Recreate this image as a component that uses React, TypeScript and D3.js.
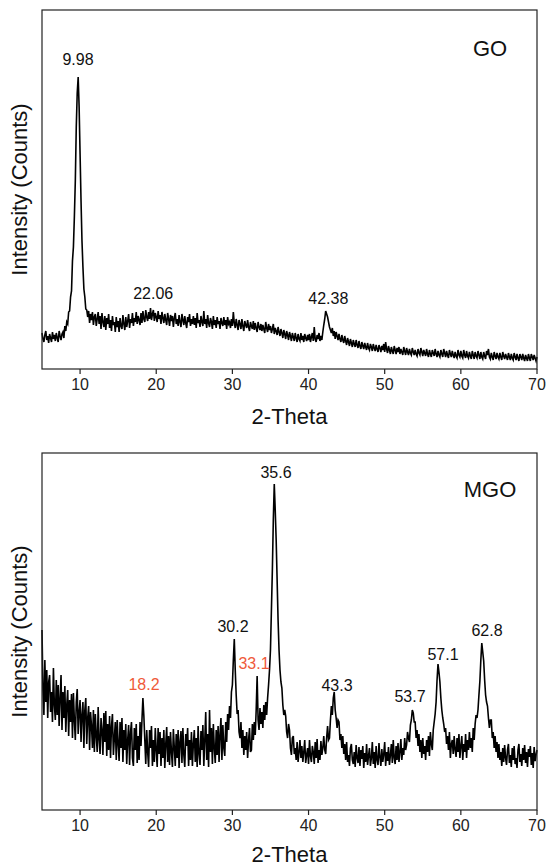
import React from "react";
import * as d3 from "d3";

// ---------- data ----------
const angleStart = 5;
const angleStep = 0.125;

// GO diffractogram, intensity (arbitrary counts) sampled every 0.125° from 5° to 70° (8 values per degree)
const goIntensity = [
  36, 30, 27, 34, 38, 29, 33, 26, // 5
  35, 31, 27, 37, 30, 34, 28, 36, // 6
  31, 27, 38, 33, 29, 35, 37, 31, // 7
  43, 38, 47, 45, 57, 58, 72, 78, // 8
  108, 122, 152, 188, 242, 276, 292, 262, // 9
  215, 168, 128, 102, 80, 72, 60, 59, // 10
  52, 58, 46, 55, 49, 57, 44, 52, // 11
  55, 43, 50, 57, 45, 53, 40, 56, // 12
  47, 42, 53, 39, 51, 45, 55, 41, // 13
  49, 38, 53, 44, 47, 37, 52, 42, // 14
  48, 37, 51, 43, 40, 54, 45, 39, // 15
  52, 42, 48, 55, 41, 50, 46, 56, // 16
  43, 51, 47, 57, 45, 53, 49, 44, // 17
  56, 46, 58, 50, 47, 59, 52, 48, // 18
  57, 50, 61, 49, 55, 59, 48, 56, // 19
  52, 47, 58, 50, 54, 45, 57, 51, // 20
  46, 55, 49, 44, 56, 50, 43, 54, // 21
  48, 53, 42, 51, 56, 45, 50, 43, // 22
  54, 47, 42, 55, 49, 44, 53, 46, // 23
  41, 52, 47, 55, 43, 50, 45, 53, // 24
  44, 51, 41, 56, 46, 49, 42, 53, // 25
  47, 43, 58, 45, 50, 41, 54, 46, // 26
  42, 51, 47, 40, 53, 44, 49, 41, // 27
  52, 45, 48, 40, 51, 46, 43, 52, // 28
  44, 49, 40, 52, 45, 47, 41, 50, // 29
  43, 57, 46, 41, 50, 44, 39, 49, // 30
  45, 40, 50, 43, 38, 48, 44, 41, // 31
  49, 42, 38, 47, 43, 40, 48, 39, // 32
  46, 41, 37, 47, 42, 39, 45, 38, // 33
  44, 40, 36, 47, 41, 37, 45, 39, // 34
  43, 36, 40, 45, 35, 41, 38, 34, // 35
  42, 37, 33, 40, 36, 31, 39, 35, // 36
  30, 38, 34, 29, 37, 33, 28, 36, // 37
  32, 28, 36, 31, 27, 35, 30, 28, // 38
  36, 29, 33, 27, 35, 31, 28, 34, // 39
  29, 35, 27, 32, 36, 28, 42, 30, // 40
  27, 34, 30, 36, 28, 33, 29, 37, // 41
  44, 50, 58, 55, 52, 47, 42, 39, // 42
  36, 41, 33, 38, 30, 37, 33, 29, // 43
  35, 30, 27, 34, 29, 26, 33, 28, // 44
  24, 31, 27, 23, 30, 26, 22, 29, // 45
  25, 22, 29, 24, 21, 28, 23, 20, // 46
  27, 23, 20, 26, 22, 19, 26, 21, // 47
  19, 25, 22, 18, 25, 21, 18, 24, // 48
  20, 17, 24, 21, 17, 23, 19, 25, // 49
  17, 27, 20, 16, 23, 19, 15, 22, // 50
  18, 15, 23, 19, 15, 21, 17, 22, // 51
  15, 20, 17, 14, 22, 18, 14, 21, // 52
  17, 14, 20, 16, 14, 21, 17, 14, // 53
  19, 15, 13, 20, 16, 14, 21, 17, // 54
  13, 19, 16, 13, 20, 15, 12, 19, // 55
  15, 12, 19, 16, 13, 20, 15, 12, // 56
  18, 14, 12, 19, 15, 12, 20, 16, // 57
  12, 18, 14, 11, 19, 15, 12, 18, // 58
  14, 11, 17, 13, 11, 19, 14, 12, // 59
  18, 13, 11, 19, 14, 11, 18, 13, // 60
  11, 17, 13, 10, 18, 14, 10, 17, // 61
  13, 11, 18, 14, 10, 17, 12, 10, // 62
  17, 13, 10, 18, 14, 20, 12, 10, // 63
  16, 12, 9, 17, 13, 10, 16, 12, // 64
  10, 16, 12, 9, 17, 13, 10, 15, // 65
  12, 9, 16, 12, 9, 15, 11, 9, // 66
  16, 12, 9, 15, 11, 8, 15, 12, // 67
  9, 15, 11, 8, 14, 11, 8, 15, // 68
  11, 8, 15, 12, 9, 14, 11, 8, // 69
  12, // 70
];

// MGO diffractogram, same sampling
const mgoIntensity = [
  180, 120, 95, 150, 108, 140, 92, 128, // 5
  135, 98, 118, 88, 142, 105, 90, 130, // 6
  95, 125, 84, 112, 135, 80, 118, 92, // 7
  124, 78, 105, 120, 74, 110, 88, 116, // 8
  72, 117, 90, 70, 108, 121, 76, 98, // 9
  110, 68, 95, 108, 62, 100, 112, 66, // 10
  92, 104, 60, 98, 84, 62, 100, 58, // 11
  96, 74, 58, 103, 70, 56, 92, 80, // 12
  55, 97, 68, 99, 54, 86, 60, 94, // 13
  52, 84, 96, 55, 72, 88, 50, 90, // 14
  66, 49, 88, 62, 92, 48, 80, 60, // 15
  86, 46, 70, 85, 45, 78, 88, 52, // 16
  44, 82, 60, 86, 47, 74, 50, 88, // 17
  64, 90, 112, 94, 70, 46, 80, 58, // 18
  43, 80, 62, 84, 44, 70, 48, 82, // 19
  60, 43, 82, 56, 78, 44, 72, 52, // 20
  80, 42, 66, 83, 48, 74, 45, 78, // 21
  58, 43, 81, 62, 44, 76, 52, 80, // 22
  42, 68, 79, 47, 82, 55, 43, 76, // 23
  64, 82, 44, 70, 50, 78, 44, 66, // 24
  80, 48, 72, 43, 84, 56, 45, 79, // 25
  60, 85, 44, 70, 98, 50, 76, 43, // 26
  100, 58, 82, 46, 86, 62, 47, 80, // 27
  55, 84, 48, 76, 92, 50, 85, 62, // 28
  54, 88, 68, 96, 80, 104, 92, 118, // 29
  125, 150, 171, 140, 115, 96, 100, 78, // 30
  72, 88, 62, 80, 55, 74, 60, 78, // 31
  52, 70, 82, 58, 60, 86, 70, 88, // 32
  75, 100, 134, 90, 80, 102, 86, 98, // 33
  82, 105, 90, 108, 95, 112, 125, 140, // 34
  160, 200, 240, 290, 326, 300, 270, 230, // 35
  190, 160, 140, 128, 122, 105, 95, 100, // 36
  94, 78, 72, 86, 80, 62, 55, 72, // 37
  74, 56, 62, 50, 68, 48, 58, 70, // 38
  52, 64, 48, 58, 70, 47, 55, 62, // 39
  46, 70, 54, 48, 64, 58, 46, 68, // 40
  52, 71, 47, 60, 50, 69, 55, 62, // 41
  74, 60, 56, 72, 84, 70, 72, 90, // 42
  104, 95, 112, 118, 100, 92, 82, 90, // 43
  88, 70, 76, 62, 74, 56, 66, 50, // 44
  68, 48, 55, 44, 62, 66, 50, 46, // 45
  58, 43, 65, 52, 47, 63, 44, 60, // 46
  51, 64, 42, 57, 48, 66, 45, 54, // 47
  62, 44, 52, 68, 46, 58, 42, 64, // 48
  50, 45, 67, 53, 44, 61, 48, 56, // 49
  68, 44, 58, 49, 63, 45, 55, 66, // 50
  47, 70, 52, 46, 64, 50, 67, 48, // 51
  58, 71, 50, 62, 55, 72, 60, 65, // 52
  78, 72, 68, 85, 90, 100, 97, 88, // 53
  88, 72, 80, 64, 76, 58, 70, 52, // 54
  72, 56, 64, 50, 70, 58, 74, 54, // 55
  78, 66, 60, 80, 88, 96, 108, 130, // 56
  146, 138, 128, 112, 100, 92, 86, 78, // 57
  82, 66, 74, 60, 78, 52, 66, 70, // 58
  56, 74, 60, 53, 72, 58, 76, 52, // 59
  64, 74, 50, 66, 58, 76, 52, 70, // 60
  60, 78, 62, 72, 58, 82, 70, 86, // 61
  95, 92, 100, 115, 129, 150, 167, 158, // 62
  149, 130, 115, 108, 104, 92, 82, 90, // 63
  90, 72, 78, 62, 74, 58, 68, 52, // 64
  66, 50, 58, 44, 62, 48, 65, 52, // 65
  45, 60, 66, 47, 55, 43, 62, 50, // 66
  64, 46, 52, 42, 60, 66, 48, 56, // 67
  44, 62, 50, 65, 47, 58, 43, 61, // 68
  53, 64, 45, 57, 42, 63, 49, 55, // 69
  60, // 70
];

const xTicks = [10, 20, 30, 40, 50, 60, 70];

const goPeakLabels = ["9.98", "22.06", "42.38"];
const goPeakAngles = [9.73, 19.6, 42.6];
const goPeakValues = [304, 70, 65];
const goPeakRed = [false, false, false];

const mgoPeakLabels = ["35.6", "30.2", "33.1", "18.2", "43.3", "53.7", "57.1", "62.8"];
const mgoPeakAngles = [35.73, 30.08, 32.84, 18.39, 43.74, 53.33, 57.66, 63.44];
const mgoPeakValues = [332, 178, 141, 120, 119, 108, 150, 174];
const mgoPeakRed = [false, false, true, true, false, false, false, false];

// ---------- layout ----------
const W = 548;
const H = 868;
const FONT = "'Liberation Sans', Arial, Helvetica, sans-serif";
const RED = "#ef5a3a";

type PanelProps = {
  top: number;
  bottom: number;
  values: number[];
  yMax: number;
  name: string;
  nameBaseline: number;
  titleOffset: number;
  labels: string[];
  labelAngles: number[];
  labelValues: number[];
  labelRed: boolean[];
};

const left = 42;
const right = 537;

function Panel(p: PanelProps) {
  const x = d3.scaleLinear().domain([5, 70]).range([left, right]);
  const y = d3.scaleLinear().domain([0, p.yMax]).range([p.bottom, p.top]);
  const pts: [number, number][] = p.values.map((v, i) => [angleStart + i * angleStep, v]);
  const line = d3
    .line<[number, number]>()
    .x((d) => x(d[0]))
    .y((d) => y(d[1]));
  const midY = (p.top + p.bottom) / 2;
  return (
    <g>
      <path d={line(pts) || ""} fill="none" stroke="#000" strokeWidth={1.6} strokeLinejoin="miter" />
      <rect
        x={left}
        y={p.top}
        width={right - left}
        height={p.bottom - p.top}
        fill="none"
        stroke="#222"
        strokeWidth={1.2}
      />
      {xTicks.map((t) => (
        <g key={t}>
          <line x1={x(t)} x2={x(t)} y1={p.bottom} y2={p.bottom + 5} stroke="#222" strokeWidth={1.2} />
          <text
            x={x(t)}
            y={p.bottom + 21}
            textAnchor="middle"
            fontSize={16}
            fontFamily={FONT}
            fill="#222"
          >
            {t}
          </text>
        </g>
      ))}
      <text
        x={(left + right) / 2}
        y={p.bottom + p.titleOffset}
        textAnchor="middle"
        fontSize={22}
        fontFamily={FONT}
        fill="#111"
      >
        2-Theta
      </text>
      <text
        transform={`translate(27,${midY}) rotate(-90)`}
        textAnchor="middle"
        fontSize={22}
        fontFamily={FONT}
        fill="#111"
      >
        Intensity (Counts)
      </text>
      <text
        x={right - 47}
        y={p.nameBaseline}
        textAnchor="middle"
        fontSize={22}
        fontFamily={FONT}
        fill="#111"
      >
        {p.name}
      </text>
      {p.labels.map((l, i) => (
        <text
          key={l}
          x={x(p.labelAngles[i])}
          y={y(p.labelValues[i])}
          textAnchor="middle"
          fontSize={16}
          fontFamily={FONT}
          fill={p.labelRed[i] ? RED : "#111"}
        >
          {l}
        </text>
      ))}
    </g>
  );
}

export default function App() {
  return (
    <svg
      width={W}
      height={H}
      viewBox={`0 0 ${W} ${H}`}
      style={{ position: "absolute", left: 0, top: 0, background: "#fff" }}
    >
      <rect x={0} y={0} width={W} height={H} fill="#fff" />
      <Panel
        top={10}
        bottom={369}
        values={goIntensity}
        yMax={359}
        name="GO"
        nameBaseline={56}
        titleOffset={55}
        labels={goPeakLabels}
        labelAngles={goPeakAngles}
        labelValues={goPeakValues}
        labelRed={goPeakRed}
      />
      <Panel
        top={453}
        bottom={810}
        values={mgoIntensity}
        yMax={357}
        name="MGO"
        nameBaseline={497}
        titleOffset={52}
        labels={mgoPeakLabels}
        labelAngles={mgoPeakAngles}
        labelValues={mgoPeakValues}
        labelRed={mgoPeakRed}
      />
    </svg>
  );
}
